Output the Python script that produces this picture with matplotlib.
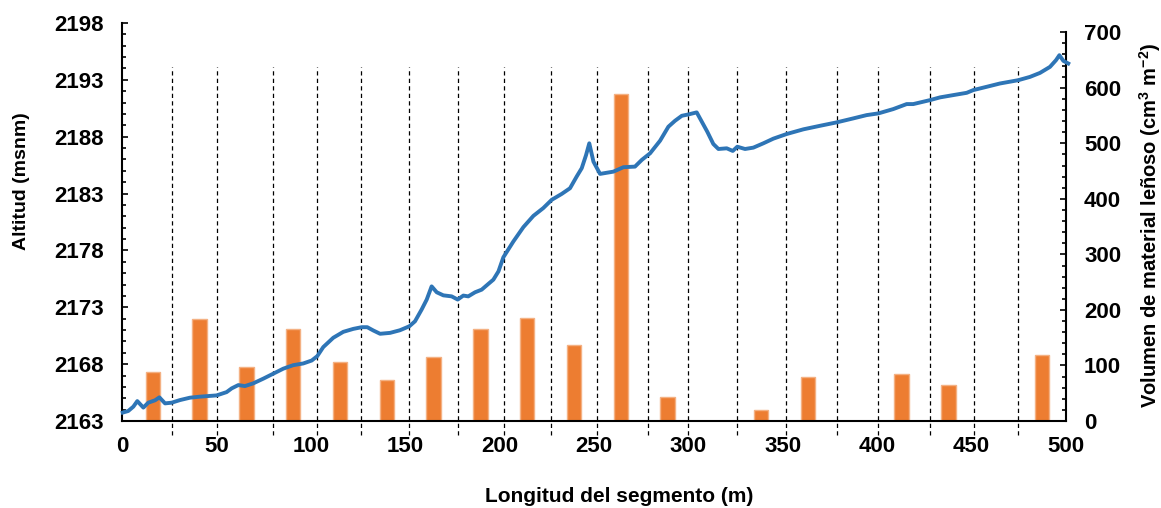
import numpy as np
import matplotlib
matplotlib.use("Agg")
import matplotlib.pyplot as plt
from matplotlib.ticker import MultipleLocator

plt.rcParams['font.family'] = ['Liberation Sans', 'DejaVu Sans']
plt.rcParams['font.weight'] = 'bold'
plt.rcParams['mathtext.fontset'] = 'custom'
plt.rcParams['mathtext.rm'] = 'Liberation Sans:bold'
plt.rcParams['mathtext.bf'] = 'Liberation Sans:bold'
plt.rcParams['mathtext.default'] = 'bf'

# Altitude profile along the segment (m, msnm)
dist = [0.4, 3.3, 6.0, 8.1, 11.3, 13.9, 17.5, 19.8, 22.8, 26.3,
        30.7, 36.0, 41.3, 50.1, 55.4, 58.1, 61.6, 65.1, 69.5, 74.8,
        80.1, 85.4, 90.7, 96.0, 100.5, 103.4, 106.6, 111.9, 117.2, 122.5,
        127.0, 129.9, 133.1, 136.7, 142.0, 147.2, 152.2, 155.2, 158.7, 161.4,
        164.0, 166.7, 170.2, 174.6, 177.8, 180.8, 183.4, 187.0, 190.5, 194.0,
        196.7, 199.4, 202.0, 207.3, 212.6, 217.9, 223.1, 227.6, 232.9, 237.3,
        240.8, 243.5, 245.8, 247.5, 249.7, 253.2, 260.3, 265.6, 271.7, 275.3,
        279.7, 285.0, 289.4, 292.9, 296.5, 300.0, 304.4, 307.1, 310.0, 313.2,
        315.9, 320.3, 323.5, 325.9, 330.0, 334.4, 339.7, 345.0, 352.1, 360.9,
        369.7, 378.5, 387.3, 394.4, 400.6, 408.5, 415.6, 419.1, 428.0, 433.3,
        440.3, 447.4, 450.9, 458.0, 465.0, 474.7, 480.9, 486.2, 491.5, 494.7,
        496.5, 498.6, 501.2]
altitud = [2163.74, 2163.88, 2164.26, 2164.75, 2164.18, 2164.61, 2164.82, 2165.08, 2164.55, 2164.61,
           2164.84, 2165.05, 2165.14, 2165.25, 2165.54, 2165.87, 2166.16, 2166.07, 2166.31, 2166.72,
           2167.16, 2167.60, 2167.91, 2168.06, 2168.32, 2168.70, 2169.50, 2170.32, 2170.84, 2171.10,
           2171.25, 2171.25, 2170.96, 2170.67, 2170.75, 2170.98, 2171.33, 2171.77, 2172.80, 2173.68,
           2174.84, 2174.32, 2174.05, 2173.96, 2173.68, 2174.03, 2173.96, 2174.32, 2174.55, 2175.05,
           2175.43, 2176.16, 2177.40, 2178.79, 2180.05, 2181.04, 2181.72, 2182.45, 2182.97, 2183.47,
           2184.49, 2185.23, 2186.39, 2187.42, 2185.81, 2184.73, 2184.93, 2185.32, 2185.37, 2185.96,
           2186.54, 2187.65, 2188.88, 2189.40, 2189.84, 2189.96, 2190.14, 2189.32, 2188.44, 2187.36,
           2186.92, 2186.98, 2186.75, 2187.12, 2186.92, 2187.04, 2187.42, 2187.83, 2188.24, 2188.65,
           2188.96, 2189.26, 2189.61, 2189.90, 2190.05, 2190.43, 2190.87, 2190.87, 2191.22, 2191.46,
           2191.66, 2191.86, 2192.10, 2192.39, 2192.68, 2192.97, 2193.26, 2193.61, 2194.14, 2194.73,
           2195.17, 2194.67, 2194.44]

# Woody material volume per sub-segment (cm3 m-2)
seg_center = [16.3, 41.0, 66.0, 90.7, 115.5, 140.3, 165.0, 189.8, 214.6, 239.3,
              264.2, 288.9, 313.6, 338.4, 363.3, 388.0, 412.9, 437.8, 462.5, 487.3]
volumen = [88, 183, 98, 166, 107, 73, 116, 165, 186, 136,
           588, 44, 0, 20, 79, 0, 85, 65, 0, 118]

# Section boundaries (dashed lines)
cortes = [26.5, 50.3, 80.0, 103.3, 126.6, 152.2, 177.8, 202.3, 227.2, 251.6,
          278.4, 299.6, 325.7, 351.7, 378.9, 400.4, 428.0, 451.1, 474.7]

alt_ticks = [2163, 2168, 2173, 2178, 2183, 2188, 2193, 2198]

fig = plt.figure(figsize=(11.61, 5.08), dpi=100)
ax = fig.add_axes([122 / 1161, 87 / 508, 944 / 1161, 398 / 508])
ax2 = ax.twinx()

ax2.bar(seg_center, volumen, width=7.6, color='#ED7D31', edgecolor='#F4B183', linewidth=1)
ax2.set_ylim(0, 716.7)
ax2.set_yticks(np.arange(0, 701, 100))
ax2.set_yticks(np.arange(0, 701, 20), minor=True)
ax2.spines['right'].set_bounds(0, 700)

ax.set_zorder(ax2.get_zorder() + 1)
ax.patch.set_visible(False)

ax.vlines(cortes, -0.035, 0.89, transform=ax.get_xaxis_transform(), colors='black',
          linewidth=0.9, linestyles=(0, (3.4, 2.6)), clip_on=False)
ax.plot(dist, altitud, color='#2E75B6', linewidth=2.8, clip_on=False, zorder=3)

ax.set_xlim(0, 500)
ax.set_ylim(2163, 2198)
ax.xaxis.set_major_locator(MultipleLocator(50))
ax.set_yticks(alt_ticks)
ax.set_yticks(np.arange(2163, 2199, 1), minor=True)

for a in (ax, ax2):
    a.spines['top'].set_visible(False)
    for s in a.spines.values():
        s.set_linewidth(1.5)

ax.spines['right'].set_visible(False)
ax2.spines['left'].set_visible(False)
ax2.spines['bottom'].set_visible(False)

ax.tick_params(axis='x', length=0, pad=11, labelsize=16)
ax.tick_params(axis='y', which='major', direction='in', length=4, width=1.2, pad=13, labelsize=16)
ax.tick_params(axis='y', which='minor', direction='in', length=3, width=1.2)
ax2.tick_params(axis='y', which='major', direction='in', length=4, width=1.2, pad=13, labelsize=16)
ax2.tick_params(axis='y', which='minor', direction='in', length=3, width=1.2)

fig.text(22 / 1161, 1 - 181 / 508, 'Altitud (msnm)', rotation=90, ha='center', va='center',
         fontsize=14, fontweight='bold')
fig.text(1150 / 1161, 1 - 225 / 508, 'Volumen de material leñoso (cm$^{3}$ m$^{-2}$)', rotation=90,
         ha='center', va='center', fontsize=14.5, fontweight='bold')
fig.text(619 / 1161, 1 - 497 / 508, 'Longitud del segmento (m)', ha='center', va='center',
         fontsize=15, fontweight='bold')

fig.savefig('out.png', dpi=100)
